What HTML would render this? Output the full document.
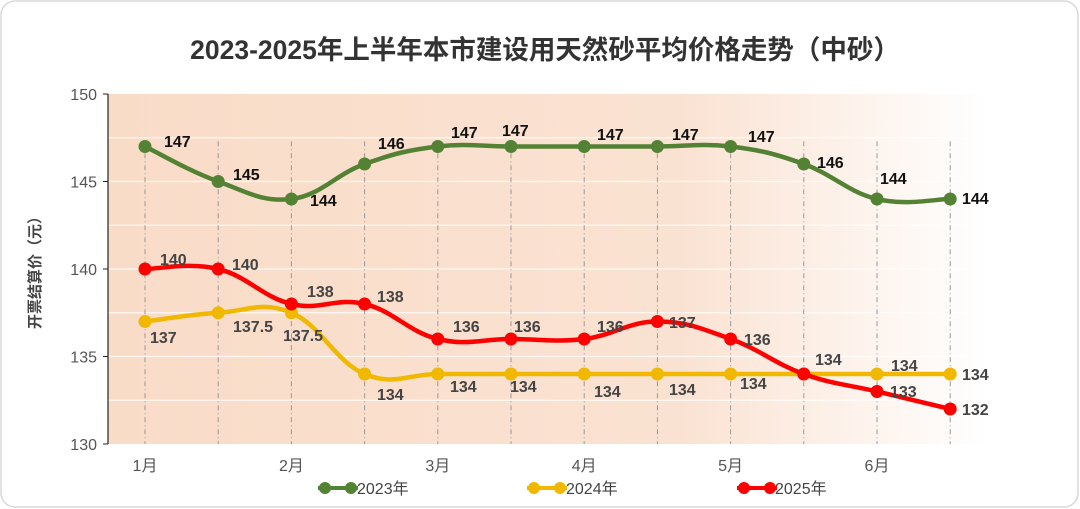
<!DOCTYPE html>
<html><head><meta charset="utf-8"><style>
body{margin:0;background:#fff;}
svg{display:block;font-family:"Liberation Sans","Noto Sans CJK SC",sans-serif;}
</style></head><body>
<svg id="s" width="1080" height="509" xmlns="http://www.w3.org/2000/svg">
<defs>
<linearGradient id="bg" x1="0" x2="1" y1="0" y2="0">
<stop offset="0" stop-color="#f9dcc8"/><stop offset="0.65" stop-color="#fae2d2"/><stop offset="1" stop-color="#ffffff"/>
</linearGradient>
</defs>
<rect x="1" y="1" width="1077" height="506" rx="14" fill="#fff" stroke="#d8d8d8" stroke-width="1.5"/>
<text x="545" y="59" text-anchor="middle" font-size="26.5" font-weight="bold" fill="#333">2023-2025年上半年本市建设用天然砂平均价格走势（中砂）</text>
<rect x="108" y="94" width="880" height="350" fill="url(#bg)"/>
<g id="grid"></g>
<line x1="108" y1="94" x2="108" y2="444" stroke="#222" stroke-width="1.2"/>
<text transform="translate(40,269) rotate(-90)" text-anchor="middle" font-size="15" font-weight="bold" fill="#444">开票结算价（元）</text>
<g id="ax" font-size="16" fill="#555"></g>
<g id="series"></g>
<g font-size="16" fill="#444">
<line x1="318" y1="488" x2="358" y2="488" stroke="#548235" stroke-width="4"/><circle cx="325" cy="488" r="6" fill="#548235"/><circle cx="351" cy="488" r="6" fill="#548235"/><text x="357" y="494">2023年</text>
<line x1="527" y1="488" x2="567" y2="488" stroke="#f0b800" stroke-width="4"/><circle cx="534" cy="488" r="6" fill="#f0b800"/><circle cx="560" cy="488" r="6" fill="#f0b800"/><text x="566" y="494">2024年</text>
<line x1="737" y1="488" x2="777" y2="488" stroke="#ff0000" stroke-width="4"/><circle cx="744" cy="488" r="6" fill="#ff0000"/><circle cx="770" cy="488" r="6" fill="#ff0000"/><text x="775" y="494">2025年</text>
</g>
</svg>
<script>
var NS="http://www.w3.org/2000/svg";
function el(p,t,a,txt){var e=document.createElementNS(NS,t);for(var k in a)e.setAttribute(k,a[k]);if(txt!=null)e.textContent=txt;document.getElementById(p).appendChild(e);return e;}
function Y(v){return 444-(v-130)*17.5;}
function X(i){return 145+i*73.2;}
for(var v=132.5;v<150;v+=2.5){el("grid","line",{x1:108,x2:988,y1:Y(v),y2:Y(v),stroke:"#fff","stroke-width":1.2,opacity:0.8});}
for(var i=0;i<12;i++){el("grid","line",{x1:X(i),x2:X(i),y1:Y(147.3),y2:444,stroke:"#999","stroke-width":1,"stroke-dasharray":"5,3,1,3"});}
for(var v=130;v<=150;v+=5){el("ax","text",{x:97,y:Y(v)+6,"text-anchor":"end"},String(v));el("ax","line",{x1:103,x2:108,y1:Y(v),y2:Y(v),stroke:"#222"});}
var m=["1月","2月","3月","4月","5月","6月"];
for(var i=0;i<6;i++){el("ax","text",{x:X(2*i),y:471,"text-anchor":"middle"},m[i]);}
function path(d){var p=d.map(function(v,i){return [X(i),Y(v)]});var s="M"+p[0][0]+","+p[0][1];
for(var i=0;i<p.length-1;i++){var p0=p[i-1]||p[i],p1=p[i],p2=p[i+1],p3=p[i+2]||p2;var t=0.2;
s+=" C"+(p1[0]+(p2[0]-p0[0])*t)+","+(p1[1]+(p2[1]-p0[1])*t)+" "+(p2[0]-(p3[0]-p1[0])*t)+","+(p2[1]-(p3[1]-p1[1])*t)+" "+p2[0]+","+p2[1];}return s;}
var S=[
{c:"#548235",tc:"#111",d:[147,145,144,146,147,147,147,147,147,146,144,144],
L:[[164,147],[233,180],[310,206],[378,149],[451,138],[502,136],[597,140],[672,140],[748,142],[817,168],[880,184],[962,204]]},
{c:"#f0b800",tc:"#444",d:[137,137.5,137.5,134,134,134,134,134,134,134,134,134],
L:[[150,343],[233,332],[283,341],[377,400],[450,392],[510,392],[594,397],[669,395],[740,389],null,[891,371],[962,380]]},
{c:"#ff0000",tc:"#444",d:[140,140,138,138,136,136,136,137,136,134,133,132],
L:[[160,265],[232,270],[307,297],[377,302],[453,332],[514,332],[597,332],[669,328],[744,345],[815,365],[890,397],[962,415]]}];
S.forEach(function(s){el("series","path",{d:path(s.d),fill:"none",stroke:s.c,"stroke-width":4.5});
s.d.forEach(function(v,i){el("series","circle",{cx:X(i),cy:Y(v),r:6.5,fill:s.c});});});
S.forEach(function(s){s.L.forEach(function(l,i){if(!l)return;el("series","text",{x:l[0],y:l[1],"font-size":16,"font-weight":"bold",fill:s.tc},String(s.d[i]));});});
</script>
</body></html>
